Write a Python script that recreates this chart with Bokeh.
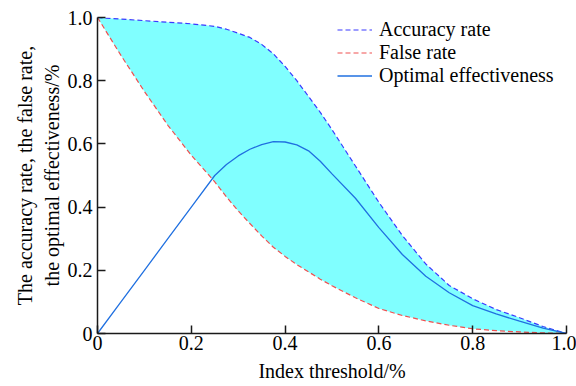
from bokeh.plotting import figure
from bokeh.models import FixedTicker, Legend, LegendItem, Range1d
from bokeh.embed import file_html
from bokeh.resources import INLINE

threshold = [0, 0.05, 0.1, 0.15, 0.2, 0.25, 0.275, 0.3, 0.325, 0.35, 0.375, 0.4, 0.425, 0.45, 0.475,
             0.5, 0.55, 0.6, 0.65, 0.7, 0.75, 0.8, 0.85, 0.9, 0.95, 1.0]
accuracy_rate = [1.0, 0.995, 0.99, 0.985, 0.98, 0.972, 0.963, 0.95, 0.937, 0.915, 0.885, 0.845, 0.80, 0.75, 0.70,
                 0.645, 0.53, 0.415, 0.31, 0.22, 0.152, 0.11, 0.076, 0.05, 0.022, 0.0]
false_rate = [1.0, 0.88, 0.766, 0.659, 0.564, 0.48, 0.432, 0.388, 0.348, 0.309, 0.273, 0.244, 0.218, 0.195, 0.172,
              0.151, 0.113, 0.079, 0.057, 0.04, 0.026, 0.015, 0.009, 0.005, 0.002, 0.0]
optimal_effectiveness = [0.0, 0.1, 0.2, 0.3, 0.4, 0.5, 0.535, 0.562, 0.583, 0.598, 0.607, 0.606, 0.597, 0.578, 0.545,
                         0.505, 0.428, 0.335, 0.25, 0.181, 0.129, 0.088, 0.062, 0.039, 0.017, 0.0]

tick_values = [0, 0.2, 0.4, 0.6, 0.8, 1.0]
tick_labels = ["0", "0.2", "0.4", "0.6", "0.8", "1.0"]

FONT = "Liberation Serif"

p = figure(width=576, height=386, output_backend="svg", toolbar_location=None,
           x_range=Range1d(0, 1), y_range=Range1d(0, 1),
           min_border_left=97, min_border_right=10, min_border_top=17, min_border_bottom=53)
p.outline_line_color = None
p.grid.visible = False
p.background_fill_color = "white"

p.varea(x=threshold, y1=false_rate, y2=accuracy_rate, fill_color="#80ffff", fill_alpha=1.0)
r_acc = p.line(threshold, accuracy_rate, line_color="#3a3aff", line_width=1.2, line_dash="5 3")
r_false = p.line(threshold, false_rate, line_color="#f05050", line_width=1.2, line_dash="5 3")
r_opt = p.line(threshold, optimal_effectiveness, line_color="#2070e0", line_width=1.3)

for ax in (p.xaxis[0], p.yaxis[0]):
    ax.ticker = FixedTicker(ticks=tick_values)
    ax.major_label_overrides = {v: s for v, s in zip(tick_values, tick_labels)}
    ax.major_tick_in = 8
    ax.major_tick_out = 0
    ax.minor_tick_line_color = None
    ax.axis_line_color = "#1a1a1a"
    ax.axis_line_width = 1.5
    ax.major_tick_line_color = "#1a1a1a"
    ax.major_tick_line_width = 1.5
    ax.major_label_text_font = FONT
    ax.major_label_text_font_size = "20px"
    ax.major_label_text_color = "black"
    ax.axis_label_text_font = FONT
    ax.axis_label_text_font_size = "20px"
    ax.axis_label_text_font_style = "normal"
    ax.axis_label_text_color = "black"

p.xaxis.axis_label = "Index threshold/%"
p.xaxis.major_label_standoff = 2
p.xaxis.axis_label_standoff = 7
p.yaxis.axis_label = "The accuracy rate, the false rate,\nthe optimal effectiveness/%"
p.yaxis.major_label_standoff = 5
p.yaxis.axis_label_standoff = 2

legend = Legend(items=[
    LegendItem(label="Accuracy rate", renderers=[r_acc]),
    LegendItem(label="False rate", renderers=[r_false]),
    LegendItem(label="Optimal effectiveness", renderers=[r_opt]),
], location=(240, 246))
legend.border_line_color = None
legend.background_fill_alpha = 0
legend.padding = 0
legend.margin = 0
legend.spacing = -5
legend.glyph_width = 35
legend.glyph_height = 21
legend.label_height = 21
legend.label_standoff = 7
legend.label_text_font = FONT
legend.label_text_font_size = "20px"
legend.label_text_color = "black"
p.add_layout(legend)

open("out.html", "w").write(file_html(p, INLINE))
